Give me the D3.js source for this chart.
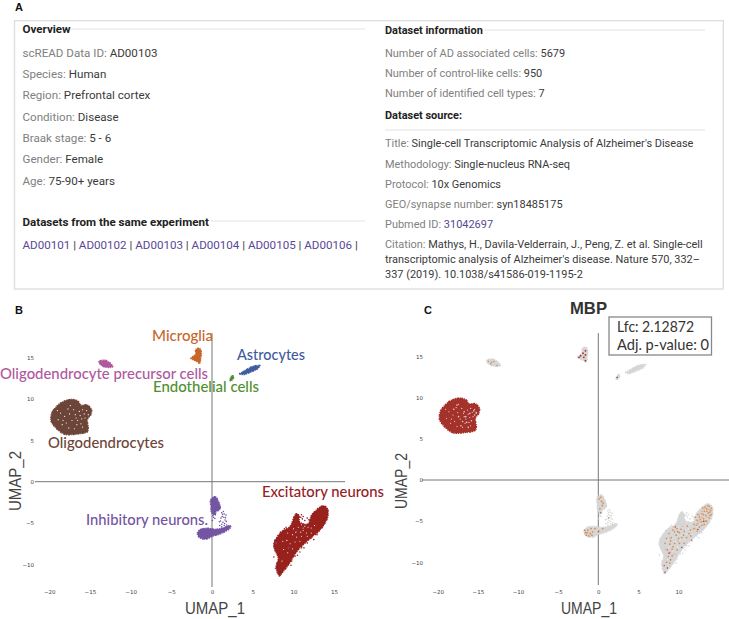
<!DOCTYPE html>
<html>
<head>
<meta charset="utf-8">
<script src="https://cdn.jsdelivr.net/npm/d3@7"></script>
<style>
  html, body { margin: 0; padding: 0; background: #fff; }
  svg { display: block; }
</style>
</head>
<body>
<svg id="chart" width="729" height="619"></svg>
<script>
// ---- panel A text ----
const overviewRows = [
  ["scREAD Data ID: ", "AD00103"], ["Species: ", "Human"], ["Region: ", "Prefrontal cortex"],
  ["Condition: ", "Disease"], ["Braak stage: ", "5 - 6"], ["Gender: ", "Female"], ["Age: ", "75-90+ years"]
];
const sameExperiment = ["AD00101", "AD00102", "AD00103", "AD00104", "AD00105", "AD00106"];
const infoRows = [
  ["Number of AD associated cells: ", "5679"], ["Number of control-like cells: ", "950"],
  ["Number of identified cell types: ", "7"]
];
const sourceRows = [
  ["Title: ", "Single-cell Transcriptomic Analysis of Alzheimer's Disease"],
  ["Methodology: ", "Single-nucleus RNA-seq"], ["Protocol: ", "10x Genomics"],
  ["GEO/synapse number: ", "syn18485175"]
];
const pubmedId = "31042697";
const citationLines = [
  "Mathys, H., Davila-Velderrain, J., Peng, Z. et al. Single-cell",
  "transcriptomic analysis of Alzheimer's disease. Nature 570, 332\u2013",
  "337 (2019). 10.1038/s41586-019-1195-2"
];

// ---- UMAP ticks ----
const xTicksB = [-20, -15, -10, -5, 0, 5, 10, 15];
const xTicksC = [-20, -15, -10, -5, 0, 5, 10];
const yTicks = [-10, -5, 0, 5, 10, 15];

// ---- cluster outlines in UMAP units ----
const oligoOutline = [[-19.8,7.46],[-19.6,8.46],[-18.9,9.27],[-18.3,9.68],[-17.2,9.96],[-16.4,9.68],[-16.1,9.25],[-15.3,9.27],[-14.8,8.67],[-14.9,8.07],[-15.3,7.58],[-15.2,6.45],[-15.3,6.05],[-16.6,5.77],[-18.1,5.73],[-18.9,6.25],[-19.5,6.86]];
const opcOutline = [[-13.9,14.5],[-13.35,14.7],[-12.7,14.5],[-12.2,13.9],[-12.9,13.83],[-13.55,14.03]];
const microgliaOutline = [[-2.6,14.9],[-2.0,15.4],[-2.0,16.0],[-1.5,16.1],[-1.3,15.5],[-1.4,14.9],[-1.5,14.3],[-1.8,14.5],[-2.2,14.7]];
const astroOutline = [[3.4,13.05],[4.0,13.4],[4.9,13.9],[5.9,14.05],[5.5,13.6],[4.6,13.2],[3.9,12.95]];
const endoOutline = [[2.2,12.3],[2.5,12.8],[2.65,12.7],[2.4,12.2]];
const inhibUpperOutline = [[-0.16,-2.21],[0.37,-1.81],[0.9,-2.62],[0.98,-3.34],[0.49,-3.63],[0.37,-4.03],[-0.04,-3.75],[-0.12,-3.02]];
const inhibBandOutline = [[-1.8,-6.24],[-1.39,-5.76],[-0.45,-5.64],[0.37,-5.76],[1.19,-5.64],[2.21,-5.32],[2.3,-5.52],[1.19,-6.24],[0.16,-6.57],[-0.86,-6.97],[-1.56,-6.73]];
const excitOutline = [[8.27,-11.4],[7.9,-10.28],[8.15,-9.27],[7.6,-7.65],[8.56,-6.05],[9.58,-5.44],[10.3,-3.9],[10.65,-4.03],[10.8,-4.9],[11.8,-5.1],[12.25,-4.03],[13.67,-2.9],[14.2,-3.34],[14.16,-4.43],[13.27,-5.84],[11.83,-7.05],[10.4,-8.46],[9.37,-10.07],[8.56,-11.08]];

// single cells between the lobes of the inhibitory cluster
const inhibLink = [[1.19,-3.75],[1.5,-3.9],[1.72,-4.03],[1.25,-4.2],[1.6,-4.63],[1.1,-4.4],[0.9,-4.84],[1.35,-4.9],[1.8,-5.24],[1.19,-5.44],[0.2,-4.3],[0.05,-4.7],[1.55,-5.05],[0.95,-5.3],[1.4,-3.6],[1.65,-4.35],[1.3,-3.95],[1.45,-4.3],[1.05,-4.75],[1.5,-5.3],[1.2,-5.15],[0.1,-4.1],[0.35,-4.45],[1.75,-4.8]];
// white gaps inside the clusters
const oligoGaps = [[-18.6,8.3],[-18.1,7.9],[-17.7,8.8],[-17.2,7.4],[-16.8,8.1],[-16.3,8.5],[-16,7.6],[-15.7,8.2],[-15.4,8.6],[-17.9,7.1],[-16.6,6.9],[-19,8.6],[-18.4,6.9],[-16.1,7],[-15.6,7.7],[-17.4,9.2],[-17,8.7],[-16.5,7.4],[-15.9,6.6],[-18.9,7.5],[-16.2,8],[-15.9,8.7],[-15.2,8.1],[-16.7,7.7],[-17.5,8.2],[-18.3,7.4],[-16.9,6.4],[-17.6,6.5]];
const excitGaps = [[10,-5.7],[10.6,-5.5],[11.2,-5.9],[11.6,-6.2],[10.9,-6.1],[9.9,-6.4],[10.4,-6.7],[11,-6.6],[11.7,-6.6],[12.2,-6.2],[9.2,-7.1],[9.6,-7.5],[10.2,-7.3],[10.8,-7.2],[8.8,-8.2],[9.3,-8.6],[9.9,-8.1],[8.6,-9.6],[12.6,-5.3],[9.3,-6.2],[8.7,-7.2],[10.3,-6.1],[12.2,-5.6],[11,-5.2],[11.4,-5.4],[11.8,-5.5],[11.2,-5.6],[10.9,-4.9],[11.5,-4.8]];
// cells scattered off the main body
const excitStrays = [[7.7,-7.1],[7.9,-8.6],[8,-9.8],[7.6,-9.1],[8.9,-5.7],[10.9,-4.3],[11.4,-4.7],[11.7,-4.4],[11.1,-4.5],[10.2,-9],[10.8,-8.5],[11.3,-8],[9.7,-10.1],[12.5,-7],[12.9,-6.4],[11.2,-4.2],[11.9,-4.6],[11,-4],[12.2,-6.8],[11.7,-7.4],[11,-8],[10.5,-8.9],[9.8,-9.6],[7.6,-7.5],[8.1,-6.5],[8.4,-6.1],[9.1,-5.5]];
const excitPurple = [[7.8,-10.5],[7.9,-7.4],[9.4,-8],[8,-10.9],[10.4,-6],[7.7,-8.3]];
// panel C, high expression cells
const excitOrange = [[13.8,-3.2],[13.5,-3.5],[14,-3.7],[13.2,-3.8],[13.7,-4],[14.1,-4.2],[12.9,-4.1],[13.4,-4.3],[13.8,-4.6],[12.6,-4.5],[13.1,-4.7],[13.5,-5],[12.3,-4.9],[12.8,-5.1],[13.2,-5.4],[12.2,-5.5],[12.6,-5.7],[11.9,-5.9],[12.3,-6.2],[11.5,-6.1],[11.1,-5.6],[10.7,-6.2],[10.3,-6],[9.8,-5.9],[9.3,-6.1],[8.8,-6.5],[8.5,-7.1],[9.1,-7],[9.7,-6.7],[10.4,-7],[11,-7],[11.5,-6.8],[8.3,-7.7],[8.9,-7.8],[9.5,-7.7],[10.1,-7.7],[10.7,-7.7],[8.6,-8.5],[9.2,-8.4],[9.8,-8.5],[8.7,-9.3],[9.2,-9.2],[8.5,-10],[8.9,-10.1],[13.9,-3.9],[12.4,-4.2],[13,-3.4],[13.6,-3.1],[13.3,-3.3],[14.1,-3.4],[13.1,-4.2],[13.5,-3.8],[13.9,-4.3],[12.7,-4.8],[13.3,-5],[12.9,-5.5],[12.4,-5.3],[11.9,-5.4],[12.1,-4.5],[11.3,-6.5],[10.1,-6.4],[9.5,-6.3],[9,-7.4],[10,-7.1],[10.6,-6.7],[9.3,-8.1],[8.9,-8.8]];
const excitPale = [[13.2,-3.5],[13.7,-3.6],[13.5,-4.5],[12.9,-4.5],[13.9,-3.5],[13.1,-5.1],[12.5,-5],[12.6,-4.2],[12.9,-3.8],[13.6,-5.3],[12.1,-5.9],[10.5,-5.6],[9.4,-5.7],[8.9,-7.1],[9.9,-7.4],[8.4,-8.4],[9.5,-9]];
const excitDark = [[8.3,-11.2],[8.6,-10.7],[8.2,-10.4],[9,-9.7],[9.9,-6.3],[11.6,-7.3],[12.4,-6],[10.4,-8.2],[13.1,-5],[8.8,-8.9],[9.6,-5.7]];
const inhibOrange = [[-1.6,-6.4],[-1.3,-6.1],[-1,-6.5],[-1.2,-6.8],[-0.7,-6.3],[-0.4,-5.9],[-0.9,-5.9],[-1.5,-6.7],[0.1,-2.3],[0.4,-2.6],[0.5,-3.1],[0.2,-3.5],[1.3,-4.6],[0.05,-6.2],[0.55,-5.9],[-1.7,-6.1],[-1.4,-6.4],[-0.8,-6.7],[0.3,-2.1],[0.6,-2.8]];
const inhibDark = [[0,-6.3],[0.3,-4]];
const oligoDots = [[-18,8.6],[-17.4,7.7],[-16.7,8.3],[-16,8.1],[-15.5,8.4],[-16.4,7],[-17.1,6.6],[-15.8,7.2],[-16.2,6.4],[-15.4,7.9],[-16.9,7.1],[-16.5,7.7],[-15.2,8.2],[-17.6,9.1]];
const opcDots = [[-13.7,14.4],[-13.3,14.3],[-13,14.4],[-12.6,13.9],[-13.4,14.1]];
const microgliaDots = [[-2.2,15.1],[-1.9,15.4],[-1.6,15.7],[-1.8,14.9],[-1.6,14.5],[-2.4,14.9],[-1.6,15.2]];
const endoDots = [[2.35,12.45]];

// ---- colours of the cell types ----
const colMicroglia = "#c8662b", colAstro = "#3f5c9e", colOpc = "#b0589e", colEndo = "#4f8f30",
      colOligo = "#6d4538", colInhib = "#7354a3", colExcit = "#97201f";

const svg = d3.select("#chart");
svg.append("defs").append("filter").attr("id", "soft")
  .append("feGaussianBlur").attr("stdDeviation", 0.4);

// ---- panel A ----
const uiFont = "Roboto, sans-serif";
const grey = "#808080", dark = "#3a3a3a", link = "#5a4795", rule = "#e2e2e2";
const leftSize = 11.6, rightSize = 10.95;

svg.append("rect").attr("x", 14.5).attr("y", 20.7).attr("width", 708.8).attr("height", 268.3)
  .attr("fill", "none").attr("stroke", "#dedede").attr("stroke-width", 1.4);

const row = (x, y, label, value, size, valueColor) => {
  const t = svg.append("text").attr("x", x).attr("y", y)
    .attr("font-family", uiFont).attr("font-size", size);
  if (label) t.append("tspan").attr("fill", grey).text(label);
  t.append("tspan").attr("fill", valueColor || dark).text(value);
  return t;
};
const heading = (x, y, txt, size) => svg.append("text").attr("x", x).attr("y", y)
  .attr("font-family", uiFont).attr("font-size", size).attr("font-weight", 700).attr("fill", "#222").text(txt);
const hline = (x1, x2, y) => svg.append("line").attr("x1", x1).attr("x2", x2).attr("y1", y).attr("y2", y)
  .attr("stroke", rule).attr("stroke-width", 1);

svg.append("text").attr("x", 15).attr("y", 11).attr("font-family", "Liberation Sans, Arial")
  .attr("font-weight", 700).attr("font-size", 11).attr("fill", "#111").text("A");

heading(22.5, 33, "Overview", leftSize); hline(71, 365, 29);
const overviewY = [57, 78, 99, 121, 142, 163, 185];
overviewRows.forEach((d, i) => row(22.5, overviewY[i], d[0], d[1], leftSize));
heading(22.5, 226, "Datasets from the same experiment", leftSize); hline(211, 365, 221);
const links = svg.append("text").attr("x", 22.5).attr("y", 249)
  .attr("font-family", uiFont).attr("font-size", leftSize);
sameExperiment.forEach(d => {
  links.append("tspan").attr("fill", link).text(d);
  links.append("tspan").attr("fill", dark).text(" | ");
});

heading(385, 34, "Dataset information", rightSize); hline(484, 705, 30);
const infoY = [57, 77, 97];
infoRows.forEach((d, i) => row(385, infoY[i], d[0], d[1], rightSize));
heading(385, 119, "Dataset source:", rightSize); hline(385, 705, 130);
const sourceY = [147, 168, 188, 208];
sourceRows.forEach((d, i) => row(385, sourceY[i], d[0], d[1], rightSize));
row(385, 228, "Pubmed ID: ", pubmedId, rightSize, link);
row(385, 248, "Citation: ", citationLines[0], rightSize);
row(385, 263, "", citationLines[1], rightSize);
row(385, 278, "", citationLines[2], rightSize);

// ---- scatter panels ----
function makePanel(cfg) {
  const x = d3.scaleLinear().domain([0, 10]).range([cfg.x0, cfg.x10]);
  const y = d3.scaleLinear().domain([0, 10]).range([cfg.y0, cfg.y10]);
  const g = svg.append("g");

  g.append("line").attr("x1", cfg.hFrom).attr("x2", cfg.hTo).attr("y1", y(0)).attr("y2", y(0))
    .attr("stroke", "#777").attr("stroke-width", 1);
  g.append("line").attr("x1", x(0)).attr("x2", x(0)).attr("y1", cfg.vFrom).attr("y2", cfg.vTo)
    .attr("stroke", "#777").attr("stroke-width", 1);

  const xAxis = d3.axisBottom(x).tickValues(cfg.xTicks).tickSize(0).tickPadding(0);
  const gx = g.append("g").attr("transform", `translate(0,${cfg.xAxisY})`).call(xAxis);
  const yAxis = d3.axisLeft(y).tickValues(yTicks).tickSize(0).tickPadding(0);
  const gy = g.append("g").attr("transform", `translate(${cfg.yAxisX},0)`).call(yAxis);
  [gx, gy].forEach(a => {
    a.select(".domain").remove();
    a.selectAll("text").attr("font-family", "DejaVu Sans").attr("font-size", 5.5).attr("fill", "#444");
  });

  g.append("text").attr("x", cfg.xTitleX).attr("y", cfg.xTitleY).attr("text-anchor", "middle")
    .attr("font-family", "Liberation Sans, Arial").attr("font-size", 17).attr("fill", "#444")
    .attr("textLength", cfg.titleLen).attr("lengthAdjust", "spacingAndGlyphs").text("UMAP_1");
  g.append("text").attr("transform", `translate(${cfg.yTitleX},${cfg.yTitleY}) rotate(-90)`).attr("text-anchor", "middle")
    .attr("font-family", "Liberation Sans, Arial").attr("font-size", 17).attr("fill", "#444")
    .attr("textLength", cfg.titleLen).attr("lengthAdjust", "spacingAndGlyphs").text("UMAP_2");

  const marks = g.append("g").attr("filter", "url(#soft)");
  const outlinePath = d3.line().x(d => x(d[0])).y(d => y(d[1])).curve(d3.curveCatmullRomClosed.alpha(0.5));
  return {
    blob(outline, color) {
      // uneven dashes keep the edge of the cloud from looking cut out
      marks.append("path").datum(outline).attr("d", outlinePath).attr("fill", color)
        .attr("stroke", color).attr("stroke-width", 1.5).attr("stroke-dasharray", "1.3 0.6 2.2 1 0.8 0.7 1.7 0.9");
    },
    dots(points, color, r) {
      marks.append("g").selectAll("circle").data(points).join("circle")
        .attr("cx", d => x(d[0])).attr("cy", d => y(d[1])).attr("r", r || 0.8).attr("fill", color);
    }
  };
}

const panelB = makePanel({
  x0: 212, x10: 293.4, y0: 481.7, y10: 399, hFrom: 35, hTo: 345, vFrom: 333, vTo: 587,
  xTicks: xTicksB, xAxisY: 590, yAxisX: 34, xTitleX: 215, xTitleY: 614, yTitleX: 21, yTitleY: 481, titleLen: 60
});
panelB.blob(oligoOutline, colOligo);
panelB.dots(oligoGaps, "#fff", 0.6);
panelB.blob(opcOutline, colOpc);
panelB.blob(microgliaOutline, colMicroglia);
panelB.blob(astroOutline, colAstro);
panelB.blob(endoOutline, colEndo);
panelB.blob(inhibUpperOutline, colInhib);
panelB.blob(inhibBandOutline, colInhib);
panelB.dots(inhibLink, colInhib, 0.8);
panelB.blob(excitOutline, colExcit);
panelB.dots(excitGaps, "#fff", 0.55);
panelB.dots(excitStrays, colExcit, 0.8);
panelB.dots(excitPurple, colInhib, 0.8);

const panelC = makePanel({
  x0: 598.3, x10: 678.6, y0: 480, y10: 397.7, hFrom: 422, hTo: 729, vFrom: 333, vTo: 585,
  xTicks: xTicksC, xAxisY: 590, yAxisX: 423, xTitleX: 589, xTitleY: 614, yTitleX: 407, yTitleY: 481, titleLen: 56
});
const lowGrey = "#d6d6d6", paleOrange = "#e6bd9b", midOrange = "#d68f56", highRed = "#a5312c";
panelC.blob(oligoOutline, highRed);
panelC.dots(oligoGaps, "#f2e8e6", 0.55);
panelC.dots(oligoDots, lowGrey, 0.8);
panelC.blob(opcOutline, lowGrey);
panelC.dots(opcDots, midOrange, 0.8);
panelC.blob(microgliaOutline, lowGrey);
panelC.dots(microgliaDots, highRed, 0.9);
panelC.blob(astroOutline, lowGrey);
panelC.blob(endoOutline, lowGrey);
panelC.dots(endoDots, highRed, 0.8);
panelC.blob(inhibUpperOutline, lowGrey);
panelC.blob(inhibBandOutline, lowGrey);
panelC.dots(inhibLink, lowGrey, 0.8);
panelC.dots(inhibOrange, midOrange, 0.9);
panelC.dots(inhibDark, highRed, 0.7);
panelC.blob(excitOutline, lowGrey);
panelC.dots(excitGaps, "#f4f4f4", 0.55);
panelC.dots(excitStrays, lowGrey, 0.8);
panelC.dots(excitPale, paleOrange, 1);
panelC.dots(excitOrange, midOrange, 0.85);
panelC.dots(excitDark, highRed, 0.7);

// ---- cell type labels ----
const labelFont = "Lato, sans-serif";
const cellLabels = ["Microglia", "Astrocytes", "Oligodendrocyte precursor cells", "Endothelial cells", "Oligodendrocytes", "Inhibitory neurons.", "Excitatory neurons"];
const cellColors = [colMicroglia, colAstro, colOpc, colEndo, colOligo, colInhib, colExcit];
const labelBox = [[152,341,61],[237,360,68],[0,379,208],[153,392,106],[48,448,116],[86,525,122],[262,497,122]];
cellLabels.forEach((d, i) => {
  svg.append("text").attr("x", labelBox[i][0]).attr("y", labelBox[i][1])
    .attr("font-family", labelFont).attr("font-size", 15.5).attr("font-weight", 500).attr("fill", cellColors[i])
    .attr("textLength", labelBox[i][2]).attr("lengthAdjust", "spacingAndGlyphs").text(d);
});

// ---- panel letters and gene box ----
[["B", 15, 314], ["C", 424, 314]].forEach(d => {
  svg.append("text").attr("x", d[1]).attr("y", d[2]).attr("font-family", "Liberation Sans, Arial")
    .attr("font-weight", 700).attr("font-size", 11).attr("fill", "#111").text(d[0]);
});
svg.append("text").attr("x", 570).attr("y", 314).attr("font-family", "Liberation Sans, Arial")
  .attr("font-weight", 700).attr("font-size", 16.5).attr("fill", "#333")
  .attr("textLength", 37).attr("lengthAdjust", "spacingAndGlyphs").text("MBP");
svg.append("rect").attr("x", 609).attr("y", 317).attr("width", 102.5).attr("height", 38)
  .attr("fill", "#fff").attr("stroke", "#888").attr("stroke-width", 1.3);
[["Lfc: 2.12872", 332, 77], ["Adj. p-value: 0", 350, 92]].forEach(d => {
  svg.append("text").attr("x", 617).attr("y", d[1]).attr("font-family", labelFont).attr("font-size", 15)
    .attr("fill", "#333").attr("textLength", d[2]).attr("lengthAdjust", "spacingAndGlyphs").text(d[0]);
});
</script>
</body>
</html>
